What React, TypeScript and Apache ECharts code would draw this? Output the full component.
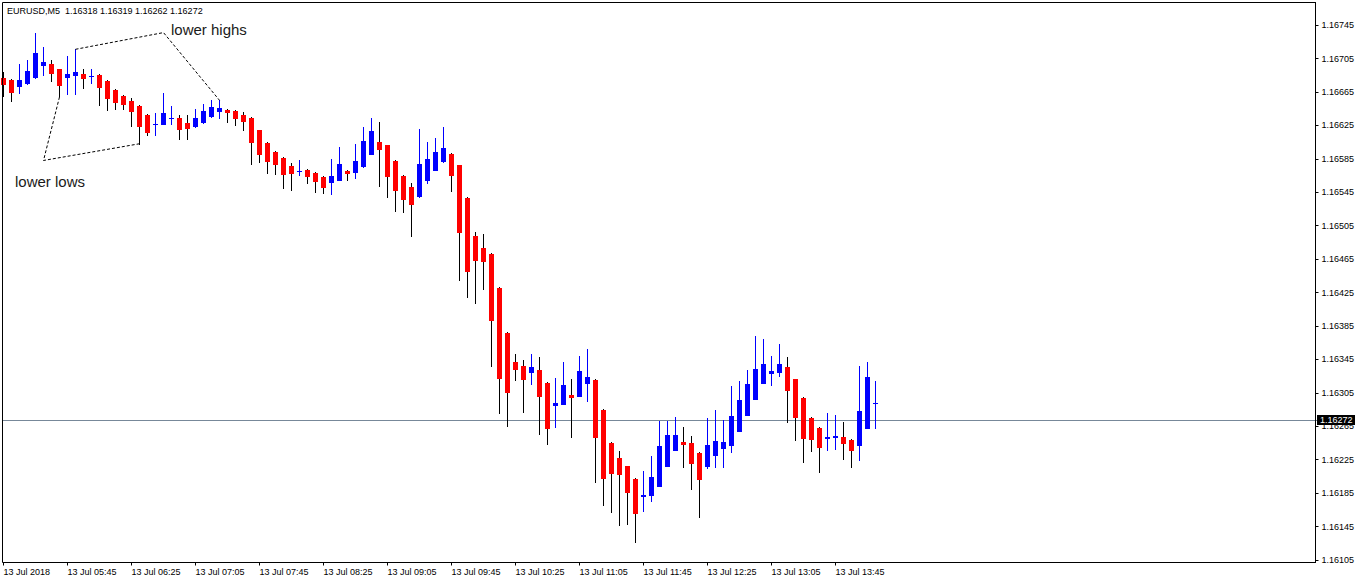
import React, { useEffect, useRef } from "react";
import * as echarts from "echarts";

// EURUSD M5, 13 Jul 2018 — MT4 style candles
const SYMBOL_INFO = "EURUSD,M5  1.16318 1.16319 1.16262 1.16272";
const DATE_LABEL = "13 Jul 2018";
const DAY_PREFIX = "13 Jul";
const FIRST_BAR_MIN = 5 * 60 + 5; // 05:05
const BAR_MINUTES = 5;
const SLOTS = 165; // bars plus the empty shift area on the right
const LABEL_EVERY = 8;

const OPENS = [
  1.16682, 1.16679, 1.16671, 1.16674, 1.16682, 1.16696, 1.16698, 1.16692, 1.16682, 1.16684,
  1.16686, 1.16684, 1.16685, 1.16678, 1.16667, 1.1666, 1.16654, 1.16648, 1.16638, 1.16626,
  1.16626, 1.16634, 1.16634, 1.16628, 1.16623, 1.16628, 1.16635, 1.16641, 1.16643, 1.16642,
  1.16637, 1.16634, 1.16619, 1.16604, 1.16593, 1.16586, 1.16576, 1.16571, 1.16572, 1.16568,
  1.16563, 1.16556, 1.16559, 1.1657, 1.16568, 1.16575, 1.1659, 1.16605, 1.16601, 1.16582,
  1.16565, 1.16551, 1.16539, 1.16559, 1.16571, 1.16581, 1.16591, 1.16577, 1.16538, 1.16493,
  1.16478, 1.16471, 1.16431, 1.16377, 1.16342, 1.16337, 1.16329, 1.16332, 1.16317, 1.16289,
  1.1629, 1.16302, 1.163, 1.16316, 1.1632, 1.16285, 1.16245, 1.16227, 1.16217, 1.16202,
  1.1618, 1.16182, 1.16192, 1.16216, 1.16235, 1.16246, 1.16245, 1.16233, 1.16216, 1.16229,
  1.16238, 1.16241, 1.16258, 1.16277, 1.16297, 1.16315, 1.16327, 1.16329, 1.16336, 1.16321,
  1.16299, 1.16275, 1.16263, 1.1625, 1.16251, 1.16252, 1.16248, 1.16241, 1.16262, 1.16293,
];
const HIGHS = [
  1.16689, 1.1668, 1.16699, 1.16703, 1.16735, 1.16719, 1.16703, 1.16693, 1.16708, 1.16716,
  1.16692, 1.16692, 1.16686, 1.16679, 1.16668, 1.16661, 1.16658, 1.16649, 1.16639, 1.1664,
  1.16664, 1.16648, 1.16638, 1.16638, 1.16645, 1.1665, 1.16655, 1.16655, 1.16644, 1.16643,
  1.16641, 1.16635, 1.1662, 1.16605, 1.16594, 1.16587, 1.1658, 1.16583, 1.16573, 1.16569,
  1.16564, 1.16585, 1.16599, 1.16572, 1.16603, 1.16623, 1.16634, 1.16629, 1.16602, 1.16583,
  1.16566, 1.16556, 1.16621, 1.16605, 1.1661, 1.16623, 1.16592, 1.16578, 1.16539, 1.16497,
  1.16495, 1.16472, 1.16432, 1.16378, 1.16351, 1.16344, 1.16352, 1.16348, 1.16318, 1.16323,
  1.16342, 1.16322, 1.16349, 1.16358, 1.16321, 1.16286, 1.16246, 1.16235, 1.16218, 1.16203,
  1.16211, 1.16229, 1.16271, 1.16271, 1.16276, 1.16264, 1.16253, 1.16234, 1.16275, 1.16284,
  1.16273, 1.16313, 1.16319, 1.16332, 1.16373, 1.1637, 1.16349, 1.16364, 1.16348, 1.16322,
  1.163, 1.16276, 1.16264, 1.16281, 1.16279, 1.1627, 1.1625, 1.16337, 1.16342, 1.16319,
];
const LOWS = [
  1.16659, 1.16653, 1.16663, 1.16673, 1.16681, 1.16684, 1.16677, 1.16659, 1.16661, 1.16661,
  1.16668, 1.16675, 1.16648, 1.16642, 1.16643, 1.16643, 1.16623, 1.16601, 1.16612, 1.16612,
  1.16625, 1.16625, 1.16608, 1.16608, 1.16622, 1.16627, 1.16634, 1.16633, 1.16628, 1.16624,
  1.16618, 1.16577, 1.1658, 1.16567, 1.16566, 1.16549, 1.16547, 1.16565, 1.16555, 1.16544,
  1.16543, 1.16542, 1.16558, 1.16558, 1.16561, 1.16574, 1.16589, 1.16551, 1.16538, 1.16521,
  1.1652, 1.16492, 1.16538, 1.16555, 1.1657, 1.1658, 1.16545, 1.16439, 1.16419, 1.16411,
  1.16428, 1.16336, 1.1628, 1.16264, 1.16319, 1.16281, 1.16314, 1.16255, 1.16243, 1.16263,
  1.1629, 1.16251, 1.163, 1.16294, 1.16197, 1.1617, 1.16161, 1.16146, 1.16147, 1.16125,
  1.16162, 1.16174, 1.16192, 1.16216, 1.16235, 1.16215, 1.16189, 1.16155, 1.16214, 1.16215,
  1.16215, 1.16233, 1.16258, 1.16277, 1.16297, 1.16315, 1.16313, 1.16324, 1.16269, 1.16247,
  1.16221, 1.16234, 1.16209, 1.16235, 1.16237, 1.16225, 1.16215, 1.16224, 1.16262, 1.16262,
];
const CLOSES = [
  1.16673, 1.16664, 1.16679, 1.1669, 1.16712, 1.16701, 1.16686, 1.16672, 1.16686, 1.16689,
  1.16681, 1.16684, 1.1667, 1.16657, 1.16652, 1.16649, 1.16641, 1.16623, 1.16616, 1.16627,
  1.1664, 1.16634, 1.1662, 1.16621, 1.16634, 1.16642, 1.16647, 1.16646, 1.1664, 1.16633,
  1.16629, 1.16604, 1.16589, 1.16581, 1.16577, 1.16566, 1.16567, 1.16571, 1.16563, 1.16557,
  1.1655, 1.16565, 1.16579, 1.16567, 1.16582, 1.16606, 1.16618, 1.16596, 1.16563, 1.16547,
  1.16536, 1.1653, 1.16579, 1.16585, 1.16593, 1.16598, 1.16565, 1.16496, 1.16449, 1.16463,
  1.16462, 1.16391, 1.16322, 1.16305, 1.16332, 1.1632, 1.16336, 1.163, 1.16262, 1.16293,
  1.16314, 1.16299, 1.16331, 1.16324, 1.16251, 1.16202, 1.16208, 1.16207, 1.16185, 1.1616,
  1.16183, 1.16204, 1.16241, 1.16254, 1.16254, 1.16243, 1.1622, 1.16201, 1.16242, 1.16247,
  1.16246, 1.16277, 1.16297, 1.16315, 1.16333, 1.16339, 1.16331, 1.1634, 1.16307, 1.16275,
  1.1625, 1.16249, 1.16239, 1.16252, 1.16253, 1.16244, 1.16235, 1.16283, 1.16324, 1.16293,
];

const LAST_PRICE = 1.16272;
const Y_TICKS = [
  1.16745, 1.16705, 1.16665, 1.16625, 1.16585, 1.16545, 1.16505, 1.16465, 1.16425,
  1.16385, 1.16345, 1.16305, 1.16265, 1.16225, 1.16185, 1.16145, 1.16105,
];
const Y_MIN = 1.16102;
const Y_MAX = 1.16772;

// trend annotations: [bar index, price]
const LOWER_HIGHS = [[9, 1.16716], [20, 1.16736], [27, 1.16655]];
const LOWER_LOWS = [[7, 1.16659], [5, 1.16583], [17, 1.16603]];

const BULL = "#0000ff";
const BEAR = "#ff0000";
const BEAR_WICK = "#000000";
const BID_LINE = "#778899";
const FONT = "Liberation Sans, Arial, sans-serif";

const CATEGORIES = Array.from({ length: SLOTS }, (_, i) => {
  const m = FIRST_BAR_MIN + i * BAR_MINUTES;
  const hh = String(Math.floor(m / 60) % 24).padStart(2, "0");
  const mm = String(m % 60).padStart(2, "0");
  return `${hh}:${mm}`;
});

const showTick = (index: number) => index % LABEL_EVERY === 0 && index < CLOSES.length;

function renderCandle(_params: any, api: any) {
  const k = api.value(0);
  const o = api.value(1);
  const c = api.value(2);
  const lo = api.value(3);
  const hi = api.value(4);
  const bull = c >= o;
  const pO = api.coord([k, o]);
  const yC = api.coord([k, c])[1];
  const yL = api.coord([k, lo])[1];
  const yH = api.coord([k, hi])[1];
  const cx = Math.floor(pO[0]) + 0.5;
  const top = Math.round(Math.min(pO[1], yC));
  const bot = Math.max(Math.round(Math.max(pO[1], yC)), top + 1);
  return {
    type: "group",
    children: [
      {
        type: "line",
        shape: { x1: cx, y1: Math.round(yH), x2: cx, y2: Math.round(yL) },
        style: { stroke: bull ? BULL : BEAR_WICK, lineWidth: 1 },
      },
      {
        type: "rect",
        shape: { x: cx - 2.5, y: top, width: 5, height: bot - top },
        style: { fill: bull ? BULL : BEAR },
      },
    ],
  };
}

export default function App() {
  const chartRef = useRef<HTMLDivElement | null>(null);

  useEffect(() => {
    if (!chartRef.current) return;
    const chart = echarts.init(chartRef.current, null, { renderer: "svg" });
    const trendLine = {
      type: "line",
      symbol: "none",
      silent: true,
      z: 4,
      lineStyle: { color: "#000", width: 1, type: [3, 2] },
    };
    const baseGraphic: any[] = [
      {
        type: "rect",
        z: 10,
        silent: true,
        shape: { x: 2.5, y: 2.5, width: 1313, height: 560 },
        style: { fill: "none", stroke: "#000", lineWidth: 1 },
      },
      {
        type: "text",
        left: 7,
        top: 6,
        z: 10,
        style: { text: SYMBOL_INFO, fontSize: 9, fontFamily: FONT, fill: "#000" },
      },
      {
        type: "text",
        x: 171,
        y: 29.5,
        z: 10,
        style: {
          text: "lower highs",
          fontSize: 15,
          fontFamily: FONT,
          fill: "#1a1a1a",
          verticalAlign: "middle",
        },
      },
      {
        type: "text",
        x: 15,
        y: 181,
        z: 10,
        style: {
          text: "lower lows",
          fontSize: 15,
          fontFamily: FONT,
          fill: "#1a1a1a",
          verticalAlign: "middle",
        },
      },
    ];
    chart.setOption({
      animation: false,
      backgroundColor: "#ffffff",
      grid: { left: 3.5, right: 42.5, top: 2.5, bottom: 21.5, outerBoundsMode: "none" },
      xAxis: {
        type: "category",
        boundaryGap: false,
        data: CATEGORIES,
        axisLine: { show: true, lineStyle: { color: "#000", width: 1 } },
        axisTick: { show: true, length: 3, interval: showTick, lineStyle: { color: "#000" } },
        axisLabel: {
          interval: showTick,
          formatter: (value: string, index: number) =>
            index === 0 ? DATE_LABEL : `${DAY_PREFIX} ${value}`,
          align: "left",
          margin: 5,
          fontSize: 9,
          fontFamily: FONT,
          color: "#000",
        },
        splitLine: { show: false },
      },
      yAxis: {
        type: "value",
        position: "right",
        min: Y_MIN,
        max: Y_MAX,
        splitLine: { show: false },
        axisLine: { show: true, lineStyle: { color: "#000", width: 1 } },
        axisTick: { show: true, length: 3, customValues: Y_TICKS, lineStyle: { color: "#000" } },
        axisLabel: {
          customValues: Y_TICKS,
          formatter: (v: number) => v.toFixed(5),
          margin: 6,
          fontSize: 9,
          fontFamily: FONT,
          color: "#000",
        },
      },
      series: [
        { ...trendLine, data: LOWER_HIGHS },
        { ...trendLine, data: LOWER_LOWS },
        {
          type: "custom",
          z: 3,
          renderItem: renderCandle,
          encode: { x: 0, y: [1, 2, 3, 4] },
          data: CLOSES.map((c, k) => [k, OPENS[k], c, LOWS[k], HIGHS[k]]),
        },
      ],
      graphic: baseGraphic,
    });

    // bid line and price tag, placed through the y axis scale
    const yBid = Math.floor(chart.convertToPixel({ yAxisIndex: 0 }, LAST_PRICE) as number) + 0.5;
    chart.setOption({
      graphic: [
        ...baseGraphic,
        {
          type: "line",
          z: 1,
          silent: true,
          shape: { x1: 3, y1: yBid, x2: 1318, y2: yBid },
          style: { stroke: BID_LINE, lineWidth: 1 },
        },
        {
          type: "rect",
          z: 11,
          silent: true,
          shape: { x: 1317, y: yBid - 5.5, width: 38, height: 10 },
          style: { fill: "#000" },
        },
        {
          type: "text",
          z: 12,
          x: 1320,
          y: yBid - 0.5,
          style: {
            text: LAST_PRICE.toFixed(5),
            fontSize: 9,
            fontFamily: FONT,
            fill: "#fff",
            verticalAlign: "middle",
          },
        },
      ],
    });
    return () => chart.dispose();
  }, []);

  return (
    <div
      ref={chartRef}
      style={{ position: "absolute", left: 0, top: 0, width: 1358, height: 584, background: "#fff" }}
    />
  );
}
